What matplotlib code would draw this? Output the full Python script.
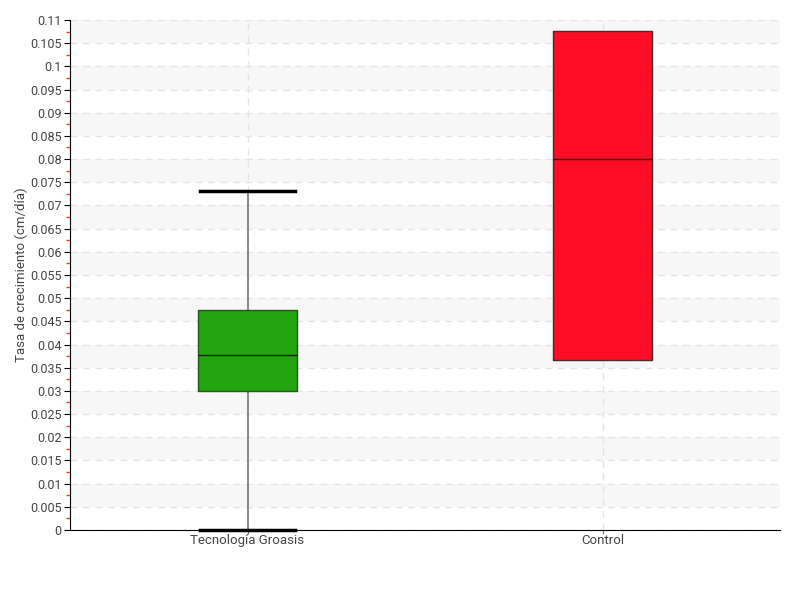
import numpy as np
import matplotlib.pyplot as plt
from matplotlib.ticker import MultipleLocator, FormatStrFormatter

plt.rcParams['font.family'] = ['Roboto', 'DejaVu Sans']

categories = ['Tecnología Groasis', 'Control']
whis_low = [0.0, 0.0367]
q1 = [0.0300, 0.0367]
median = [0.0378, 0.0800]
q3 = [0.0475, 0.1076]
whis_high = [0.0731, 0.1076]
colors = ['#22a30f', '#ff0d26']
edge_colors = ['#1d5e12', '#4a2a2a']

fig = plt.figure(figsize=(8, 6), dpi=100)
ax = fig.add_axes([0.0875, 0.1167, 0.8875, 0.85])

ymax = 0.11
step = 0.005
# alternating bands
ticks = np.arange(0, ymax + step / 2, step)
for i in range(len(ticks) - 1):
    lo, hi = ticks[i], ticks[i + 1]
    if i % 2 == 1:
        ax.axhspan(lo, hi, color='#f7f7f7', zorder=0, lw=0)

stats = []
for i, name in enumerate(categories):
    stats.append({'label': name, 'whislo': whis_low[i], 'q1': q1[i], 'med': median[i],
                  'q3': q3[i], 'whishi': whis_high[i], 'fliers': []})

positions = [0.5, 1.5]
bp = ax.bxp(stats, positions=positions, widths=0.28, patch_artist=True,
            showfliers=False,
            whiskerprops=dict(color='#777777', lw=1.2),
            capprops=dict(color='black', lw=2.5),
            medianprops=dict(color='#1a1a1a', lw=1),
            capwidths=0.27)
for i, box in enumerate(bp['boxes']):
    box.set_facecolor(colors[i])
    box.set_edgecolor(edge_colors[i])
    box.set_linewidth(1)
    box.set_zorder(3)
for m in bp['medians']:
    m.set_zorder(5)
for c in bp['caps']:
    c.set_clip_on(False)
    c.set_zorder(6)
for i in range(len(categories)):
    if whis_low[i] == q1[i]:
        bp['caps'][2 * i].set_visible(False)
        bp['whiskers'][2 * i].set_visible(False)
    if whis_high[i] == q3[i]:
        bp['caps'][2 * i + 1].set_visible(False)
        bp['whiskers'][2 * i + 1].set_visible(False)

ax.set_xlim(0, 2)
ax.set_ylim(0, ymax)
ax.set_xticks(positions)
ax.set_xticklabels(categories)
ax.yaxis.set_major_locator(MultipleLocator(step))
ax.yaxis.set_minor_locator(MultipleLocator(step / 2))
ax.yaxis.set_major_formatter(FormatStrFormatter('%g'))

ax.grid(True, axis='y', which='major', color='#e4e4e4', linestyle=(0, (5, 4)), lw=1, zorder=1)
ax.grid(True, axis='x', which='major', color='#e4e4e4', linestyle=(0, (5, 4)), lw=1, zorder=1)
ax.set_axisbelow(True)

for s in ['top', 'right']:
    ax.spines[s].set_visible(False)
ax.spines['left'].set_color('black')
ax.spines['bottom'].set_color('black')

ax.tick_params(axis='y', which='major', length=4, color='black', labelsize=9,
               labelcolor='#444444', pad=2)
ax.tick_params(axis='y', which='minor', length=3, width=1, color='#ff3333')
ax.tick_params(axis='x', which='major', length=3, color='#777777', labelsize=9.5,
               labelcolor='#444444', pad=0)

ax.set_ylabel('Tasa de crecimiento (cm/día)', fontsize=9.5, color='#444444')
ax.yaxis.set_label_coords(-0.059, 0.5)

fig.savefig('out.png', dpi=100)
